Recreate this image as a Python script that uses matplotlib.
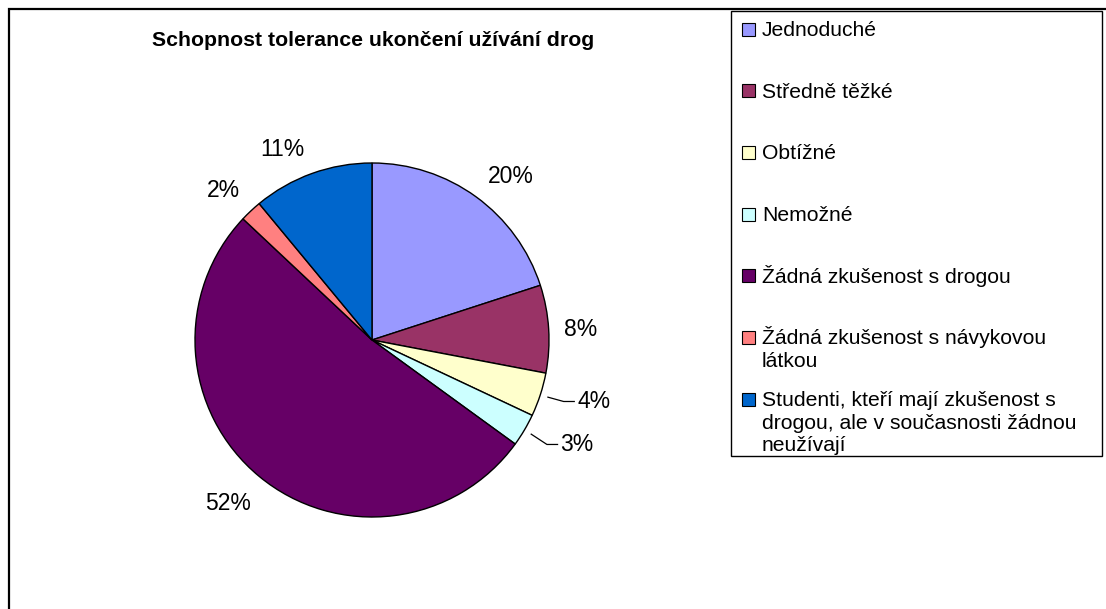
import numpy as np
import matplotlib
matplotlib.use('Agg')
import matplotlib.pyplot as plt
from matplotlib.patches import Rectangle

plt.rcParams['font.family'] = ['Liberation Sans', 'DejaVu Sans']

# data
title = 'Schopnost tolerance ukončení užívání drog'
categories = [
    'Jednoduché',
    'Středně těžké',
    'Obtížné',
    'Nemožné',
    'Žádná zkušenost s drogou',
    'Žádná zkušenost s návykovou\nlátkou',
    'Studenti, kteří mají zkušenost s\ndrogou, ale v současnosti žádnou\nneužívají',
]
shares = [20, 8, 4, 3, 52, 2, 11]
colors = ['#9999FF', '#993366', '#FFFFCC', '#CCFFFF', '#660066', '#FF8080', '#0066CC']

# label placement (radius factor, angle shift from wedge middle in degrees)
label_r = [1.21, 1.18, 1.30, 1.30, 1.23, 1.19, 1.19]
label_shift = [-4.4, -0.8, 2.5, 3.6, -1.7, 1.6, 5.4]

W, H = 1106, 609
fig = plt.figure(figsize=(W / 100, H / 100), dpi=100)

# outer chart frame (right and bottom edges fall outside the picture)
fig.add_artist(Rectangle((9 / W, -0.1), 1.5, 1.1 - 9 / H, transform=fig.transFigure,
                         fill=False, edgecolor='black', linewidth=1.6))

fig.text(373 / W, 1 - 40 / H, title, ha='center', va='center',
         fontsize=15.3, fontweight='bold')

# pie
cx, cy, rad = 372, 340, 177
ax = fig.add_axes([(cx - rad) / W, (H - cy - rad) / H, 2 * rad / W, 2 * rad / H])
wedges, _ = ax.pie(shares, colors=colors, startangle=90, counterclock=False,
                   wedgeprops=dict(edgecolor='black', linewidth=1.0))
ax.set_xlim(-1, 1)
ax.set_ylim(-1, 1)
ax.axis('off')

for w, s, lr, sh in zip(wedges, shares, label_r, label_shift):
    mid = np.deg2rad((w.theta1 + w.theta2) / 2)
    ang = mid + np.deg2rad(sh)
    lx, ly = lr * np.cos(ang), lr * np.sin(ang)
    ax.text(lx, ly, f'{s}%', ha='center', va='center', fontsize=16.5, clip_on=False)
    if lr > 1.25:
        # leader line for labels pushed away from the pie
        sx, sy = 1.045 * np.cos(mid), 1.045 * np.sin(mid)
        ax.plot([sx, lx - 0.17, lx - 0.11], [sy, ly, ly], color='black',
                linewidth=0.9, clip_on=False)

# legend drawn as Excel lays it out
fig.add_artist(Rectangle((731 / W, 1 - 456 / H), 371 / W, 445 / H, transform=fig.transFigure,
                         fill=False, edgecolor='black', linewidth=1.0))
for i, (lab, c) in enumerate(zip(categories, colors)):
    base = 36 + 61.7 * i
    fig.add_artist(Rectangle((742 / W, 1 - (base - 0.5) / H), 13 / W, 13 / H,
                             transform=fig.transFigure, facecolor=c,
                             edgecolor='black', linewidth=0.8))
    for k, line in enumerate(lab.split('\n')):
        fig.text(762 / W, 1 - (base + 22.5 * k) / H, line, ha='left', va='baseline',
                 fontsize=15.2)

fig.savefig('out.png', dpi=100)
